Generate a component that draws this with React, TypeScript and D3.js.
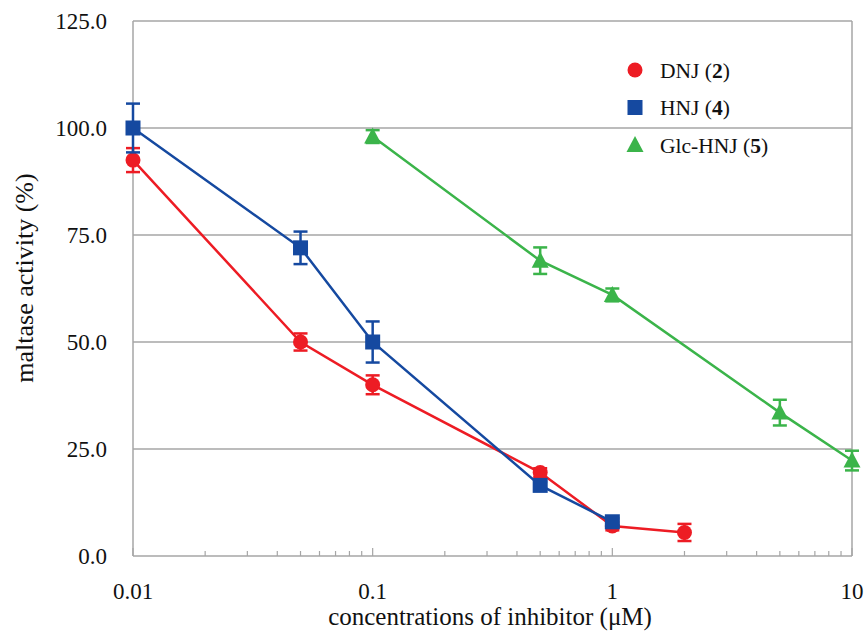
import React, { useEffect, useRef } from "react";
import * as d3 from "d3";

const concDNJ = [0.01, 0.05, 0.1, 0.5, 1, 2];
const valDNJ = [92.5, 50, 40, 19.5, 7, 5.5];
const errDNJ = [2.8, 2, 2.2, 1, 1, 2];

const concHNJ = [0.01, 0.05, 0.1, 0.5, 1];
const valHNJ = [100, 72, 50, 16.5, 8];
const errHNJ = [5.7, 3.8, 4.8, 0.8, 0.8];

const concGlc = [0.1, 0.5, 1, 5, 10];
const valGlc = [98, 69, 61, 33.5, 22.3];
const errGlc = [1.5, 3.1, 1.5, 3, 2.3];

const yTicks = [0, 25, 50, 75, 100, 125];
const xTicks = [0.01, 0.1, 1, 10];

const series = [
  { name: "DNJ", num: "2", color: "#ed1c24", shape: "circle", x: concDNJ, y: valDNJ, e: errDNJ },
  { name: "HNJ", num: "4", color: "#1549a0", shape: "square", x: concHNJ, y: valHNJ, e: errHNJ },
  { name: "Glc-HNJ", num: "5", color: "#3bb44a", shape: "triangle", x: concGlc, y: valGlc, e: errGlc },
];

export default function App() {
  const ref = useRef<SVGSVGElement>(null);

  useEffect(() => {
    const svg = d3.select(ref.current);
    svg.selectAll("*").remove();
    const W = 864, H = 634;
    const left = 133, right = 852, top = 21, bottom = 556;
    const font = "Liberation Serif, DejaVu Serif, serif";
    const grid = "#a6a6a6";

    const x = d3.scaleLog().domain([0.01, 10]).range([left, right]);
    const y = d3.scaleLinear().domain([0, 125]).range([bottom, top]);

    svg.attr("width", W).attr("height", H);
    svg.append("rect").attr("width", W).attr("height", H).attr("fill", "#fff");

    // gridlines
    svg.append("g").selectAll("line").data(yTicks.filter((d) => d > 0)).join("line")
      .attr("x1", left).attr("x2", right)
      .attr("y1", (d) => y(d)).attr("y2", (d) => y(d))
      .attr("stroke", grid).attr("stroke-width", 1.5);

    // axes frame
    svg.append("line").attr("x1", left).attr("x2", left).attr("y1", top).attr("y2", bottom)
      .attr("stroke", grid).attr("stroke-width", 1.5);
    svg.append("line").attr("x1", right).attr("x2", right).attr("y1", top).attr("y2", bottom)
      .attr("stroke", grid).attr("stroke-width", 1.5);
    svg.append("line").attr("x1", left).attr("x2", right).attr("y1", bottom).attr("y2", bottom)
      .attr("stroke", grid).attr("stroke-width", 1.5);

    // minor/major ticks on x
    const ticks: { v: number; major: boolean }[] = [];
    [0.01, 0.1, 1].forEach((dec) => {
      for (let k = 1; k <= 9; k++) ticks.push({ v: dec * k, major: k === 1 });
    });
    ticks.push({ v: 10, major: true });
    svg.append("g").selectAll("line").data(ticks).join("line")
      .attr("x1", (d) => x(d.v)).attr("x2", (d) => x(d.v))
      .attr("y1", bottom).attr("y2", (d) => bottom - (d.major ? 8 : 5))
      .attr("stroke", grid).attr("stroke-width", 1.2);

    // tick labels
    svg.append("g").selectAll("text").data(yTicks).join("text")
      .attr("x", 107).attr("y", (d) => y(d)).attr("dy", "0.35em")
      .attr("text-anchor", "end").style("font-family", font).attr("font-size", 23)
      .attr("fill", "#111").text((d) => d.toFixed(1));
    svg.append("g").selectAll("text").data(xTicks).join("text")
      .attr("x", (d) => x(d)).attr("y", 599)
      .attr("text-anchor", "middle").style("font-family", font).attr("font-size", 23)
      .attr("fill", "#111").text((d) => String(d));

    // axis titles
    svg.append("text").attr("x", 490).attr("y", 625).attr("text-anchor", "middle")
      .style("font-family", font).attr("font-size", 25).attr("fill", "#111")
      .text("concentrations of inhibitor (\u03bcM)");
    svg.append("text").attr("transform", "translate(33,278) rotate(-90)").attr("text-anchor", "middle")
      .style("font-family", font).attr("font-size", 26).attr("fill", "#111")
      .text("maltase activity (%)");

    const drawMarker = (g: any, shape: string, cx: number, cy: number, color: string) => {
      if (shape === "circle") {
        g.append("circle").attr("cx", cx).attr("cy", cy).attr("r", 7.5).attr("fill", color);
      } else if (shape === "square") {
        g.append("rect").attr("x", cx - 7.5).attr("y", cy - 7.5).attr("width", 15).attr("height", 15).attr("fill", color);
      } else {
        g.append("path").attr("d", `M${cx},${cy - 9}L${cx + 8.5},${cy + 7}L${cx - 8.5},${cy + 7}Z`).attr("fill", color);
      }
    };

    series.forEach((s) => {
      const g = svg.append("g");
      const pts = s.x.map((v, i) => [x(v), y(s.y[i])] as [number, number]);
      g.append("path").attr("d", d3.line()(pts)).attr("fill", "none")
        .attr("stroke", s.color).attr("stroke-width", 2.5);
      s.x.forEach((v, i) => {
        const cx = x(v);
        const y1 = y(s.y[i] + s.e[i]);
        const y2 = y(s.y[i] - s.e[i]);
        g.append("line").attr("x1", cx).attr("x2", cx).attr("y1", y1).attr("y2", y2)
          .attr("stroke", s.color).attr("stroke-width", 2.5);
        [y1, y2].forEach((yy) => {
          g.append("line").attr("x1", cx - 7).attr("x2", cx + 7).attr("y1", yy).attr("y2", yy)
            .attr("stroke", s.color).attr("stroke-width", 2.5);
        });
        drawMarker(g, s.shape, cx, y(s.y[i]), s.color);
      });
    });

    // legend
    series.forEach((s, i) => {
      const ly = 70 + i * 37.5;
      const g = svg.append("g");
      drawMarker(g, s.shape, 635, ly, s.color);
      const t = g.append("text").attr("x", 660).attr("y", ly).attr("dy", "0.35em")
        .style("font-family", font).attr("font-size", 21.5).attr("fill", "#111");
      t.append("tspan").text(`${s.name} (`);
      t.append("tspan").attr("font-weight", "bold").text(s.num);
      t.append("tspan").text(")");
    });
  }, []);

  return <svg ref={ref} style={{ display: "block", position: "absolute", left: 0, top: 0 }} />;
}
